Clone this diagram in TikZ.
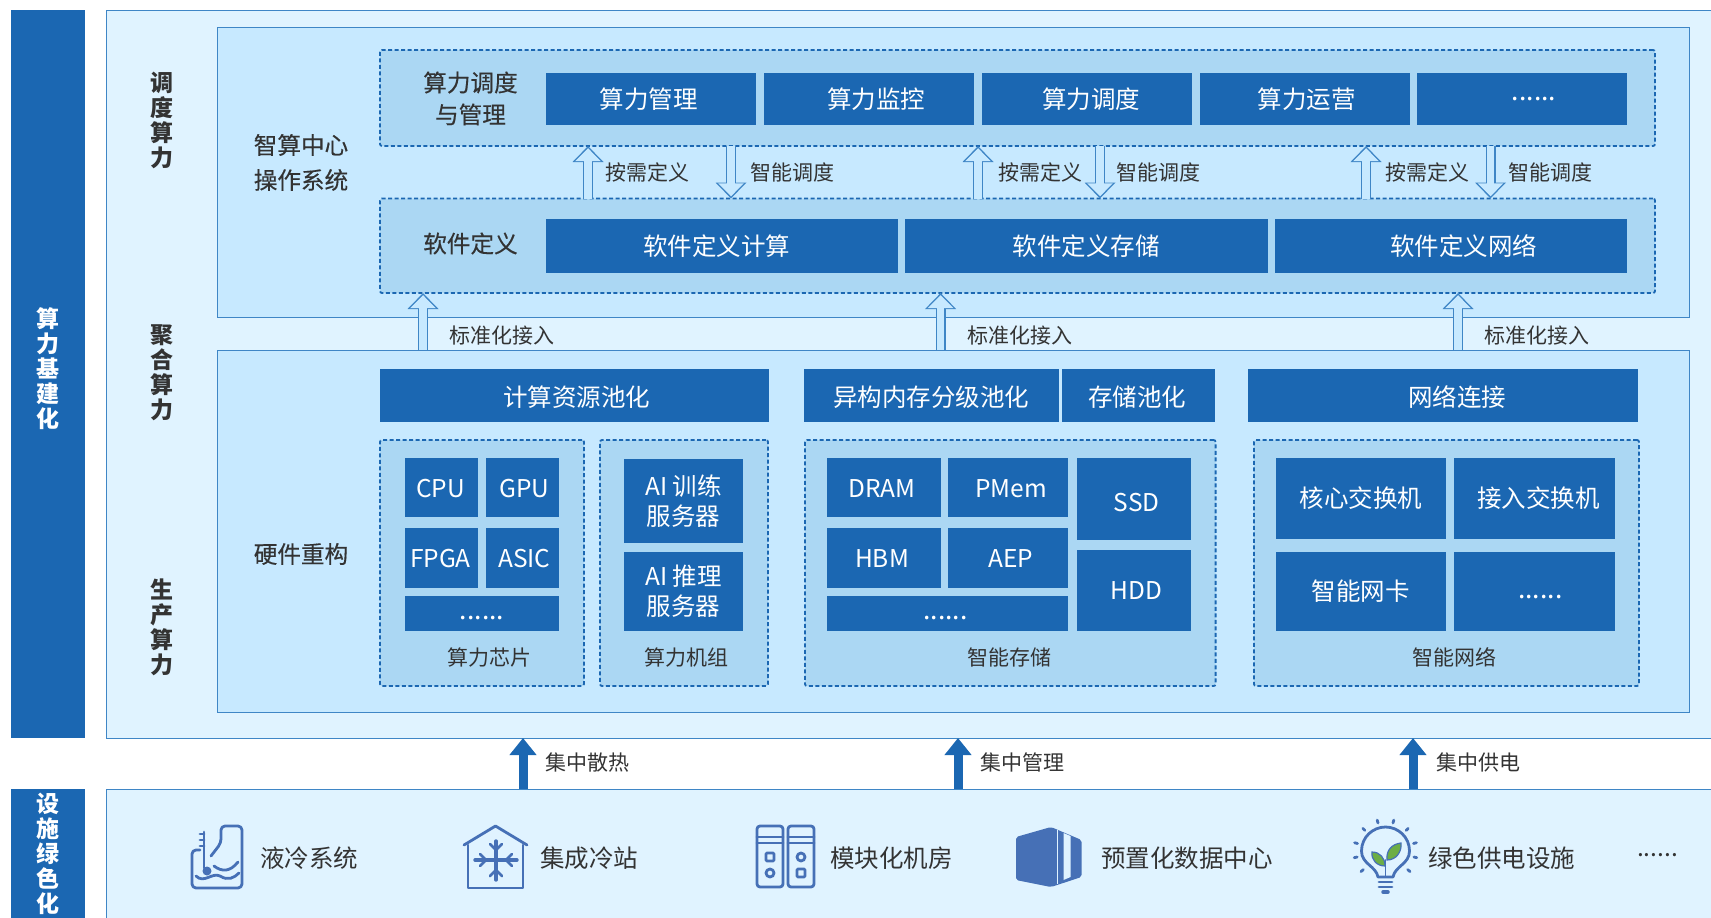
\documentclass[tikz,border=0pt]{standalone}
\usepackage{fontspec}
\setmainfont{Noto Sans CJK SC}
\newfontfamily\medfont[FakeBold=0.35]{Noto Sans CJK SC}
\usetikzlibrary{positioning,arrows.meta}
\newcommand{\nudged}[3]{\hspace*{#1}\raisebox{#2}[\height][\depth]{#3}}
\newcommand{\moredots}{\fontsize{26.5}{30}\selectfont......}
\definecolor{BarBlue}{HTML}{1B67B2}
\definecolor{PaleBlue}{HTML}{E0F3FF}
\definecolor{MidBlue}{HTML}{C7E9FF}
\definecolor{DeepBlue}{HTML}{ABD7F3}
\definecolor{EdgeBlue}{HTML}{3F86C6}
\definecolor{IconBlue}{HTML}{4670B6}
\definecolor{LeafGreen}{HTML}{6DAE45}
\definecolor{LabelGrey}{HTML}{333333}
\tikzset{
  every node/.style={
    inner sep=0pt,
    outer sep=0pt,
    text=LabelGrey
  },
  bluebox/.style={fill=BarBlue,text=white,align=center,font=\fontsize{24.5}{30}\selectfont},
  topcell/.style={bluebox,minimum width=210pt,minimum height=52pt},
  softcell/.style={bluebox,minimum height=54pt},
  headcell/.style={bluebox,minimum height=53pt},
  panel/.style={draw=EdgeBlue,line width=1pt},
  dashbox/.style={draw=BarBlue,fill=DeepBlue,dashed,dash pattern=on 4pt off 2.5pt,line width=1.8pt,rounded corners=2pt},
  sidelabel/.style={align=center,font=\fontsize{23}{25}\selectfont\bfseries},
  barlabel/.style={align=center,text=white,font=\fontsize{23}{25}\selectfont\bfseries},
  leadlabel/.style={align=center,font=\fontsize{23.6}{35}\selectfont\medfont},
  smalllabel/.style={anchor=west,font=\fontsize{21}{24}\selectfont},
  caption/.style={font=\fontsize{21}{24}\selectfont},
  itemlabel/.style={anchor=west,font=\fontsize{24.5}{28}\selectfont},
  hollowedge/.style={draw=EdgeBlue,line width=10pt,-{Triangle[length=16pt,width=30pt]}},
  hollowcore/.style={draw=MidBlue,line width=7.6pt,shorten >=2.2pt,-{Triangle[length=13pt,width=25pt]}},
  solidarrow/.style={draw=BarBlue,line width=9pt,-{Triangle[length=17pt,width=26pt]}},
  iconline/.style={draw=IconBlue,line width=2.8pt,line join=round,line cap=round}
}
\begin{document}
\begin{tikzpicture}[x=1pt,y=-1pt]
      \useasboundingbox (0,0) rectangle (1711,918);
      \node [fill=BarBlue,minimum width=74pt,minimum height=728pt] (BarTop) at (48,374) {};
      \node [fill=BarBlue,minimum width=74pt,minimum height=136pt] (BarBottom) at (48,857) {};
      \node [barlabel] (BarTopText) at (47.5,369) {算\\力\\基\\建\\化};
      \node [barlabel] (BarBottomText) at (47.5,854) {设\\施\\绿\\色\\化};

      \node [panel,fill=PaleBlue,minimum width=1608pt,minimum height=728pt] (Outer) at (910,374) {};
      \node [panel,fill=PaleBlue,minimum width=1608pt,minimum height=136pt] (Ground) at (910,857) {};
      \node [panel,fill=MidBlue,minimum width=1472pt,minimum height=290pt] (Upper) at (953,172) {};
      \node [panel,fill=MidBlue,minimum width=1472pt,minimum height=362pt] (Lower) at (953,531) {};
      \node [dashbox,minimum width=1275pt,minimum height=96pt] (SchedBox) at (1017.5,98) {};
      \node [dashbox,minimum width=1275pt,minimum height=94.5pt] (SoftBox) at (1017.5,245.75) {};

      \node [sidelabel] (SchedSide) at (161.5,120.5) {调\\度\\算\\力};
      \node [sidelabel] (PoolSide) at (161.5,372.5) {聚\\合\\算\\力};
      \node [sidelabel] (MakeSide) at (161.5,627.5) {生\\产\\算\\力};
      \node [leadlabel] (OsText) at (301,162.5) {智算中心\\操作系统};
      \node [leadlabel,font=\fontsize{23.6}{32}\selectfont\medfont] (SchedText) at (470.5,98.5) {算力调度\\与管理};
      \node [leadlabel] (SoftText) at (470.5,243.5) {软件定义};
      \node [leadlabel] (HardText) at (301,554) {硬件重构};

      \node [topcell] (Manage) at (650.5,99) {\nudged{-4pt}{0pt}{算力管理}};
      \node [topcell,on grid,right=218pt of Manage] (Monitor) {\nudged{15pt}{0pt}{算力监控}};
      \node [topcell,on grid,right=218pt of Monitor] (Dispatch) {\nudged{9pt}{0pt}{算力调度}};
      \node [topcell,on grid,right=218pt of Dispatch] (Operate) {\nudged{4pt}{0pt}{算力运营}};
      \node [topcell,on grid,right=217.5pt of Operate] (TopMore) {\nudged{24pt}{0pt}{\moredots}};

      \node [softcell,minimum width=352pt] (SoftCompute) at (722,246) {\nudged{-11pt}{0pt}{软件定义计算}};
      \node [softcell,minimum width=363pt,on grid,right=364pt of SoftCompute] (SoftStore) {软件定义存储};
      \node [softcell,minimum width=352.5pt,on grid,right=365pt of SoftStore] (SoftNet) {\nudged{25pt}{0pt}{软件定义网络}};

      \node [headcell,minimum width=389pt] (PoolHead) at (574.5,395.5) {\nudged{4pt}{-2pt}{计算资源池化}};
      \node [headcell,minimum width=254.5pt] (MemHead) at (931.25,395.5) {\nudged{0pt}{-2pt}{异构内存分级池化}};
      \node [headcell,minimum width=152.5pt] (StoreHead) at (1138.25,395.5) {\nudged{-2pt}{-2pt}{存储池化}};
      \node [headcell,minimum width=390pt] (NetHead) at (1443,395.5) {\nudged{28pt}{-2pt}{网络连接}};

      \node [dashbox,minimum width=204pt,minimum height=246pt] (ChipBox) at (482,563) {};
      \node [dashbox,minimum width=168pt,minimum height=246pt] (RackBox) at (684,563) {};
      \node [dashbox,minimum width=410.6pt,minimum height=246pt] (MemBox) at (1010.3,563) {};
      \node [dashbox,minimum width=385pt,minimum height=246pt] (NetBox) at (1446.5,563) {};

      \node [bluebox,minimum width=73pt,minimum height=59pt] (Cpu) at (441.5,487.5) {\nudged{-2pt}{-1pt}{CPU}};
      \node [bluebox,minimum width=73pt,minimum height=59pt] (Gpu) at (522.3,487.5) {\nudged{4pt}{-1pt}{GPU}};
      \node [bluebox,minimum width=73pt,minimum height=60pt] (Fpga) at (441.5,558) {\nudged{-2pt}{-1pt}{FPGA}};
      \node [bluebox,minimum width=73pt,minimum height=60pt] (Asic) at (522.3,558) {\nudged{4pt}{-1pt}{ASIC}};
      \node [bluebox,minimum width=154pt,minimum height=35pt] (ChipMore) at (482,613.5) {\nudged{0pt}{-4pt}{\moredots}};
      \node [caption] (ChipCap) at (489.5,657.5) {算力芯片};

      \node [bluebox,minimum width=119pt,minimum height=84pt] (Train) at (683.5,501) {AI 训练\\服务器};
      \node [bluebox,minimum width=119pt,minimum height=79pt] (Infer) at (683.5,591.5) {AI 推理\\服务器};
      \node [caption] (RackCap) at (686.5,657.5) {算力机组};

      \node [bluebox,minimum width=114pt,minimum height=59pt] (Dram) at (884,487.5) {\nudged{-4pt}{-1pt}{DRAM}};
      \node [bluebox,minimum width=120pt,minimum height=59pt] (Pmem) at (1008,487.5) {\nudged{6pt}{-1pt}{PMem}};
      \node [bluebox,minimum width=114pt,minimum height=60pt] (Hbm) at (884,558) {\nudged{-4pt}{-1pt}{HBM}};
      \node [bluebox,minimum width=120pt,minimum height=60pt] (Aep) at (1008,558) {\nudged{6pt}{-1pt}{AEP}};
      \node [bluebox,minimum width=241pt,minimum height=35pt] (MemMore) at (947.5,613.5) {\nudged{-4pt}{-4pt}{\moredots}};
      \node [bluebox,minimum width=113.5pt,minimum height=82pt] (Ssd) at (1133.75,499) {\nudged{6pt}{-4pt}{SSD}};
      \node [bluebox,minimum width=113.5pt,minimum height=81pt] (Hdd) at (1133.75,590.5) {\nudged{6pt}{0pt}{HDD}};
      \node [caption] (MemCap) at (1009.5,657.5) {智能存储};

      \node [bluebox,minimum width=170.4pt,minimum height=81pt] (Core) at (1360.8,498.5) {核心交换机};
      \node [bluebox,minimum width=161.5pt,minimum height=81pt] (Access) at (1534.25,498.5) {\nudged{8pt}{0pt}{接入交换机}};
      \node [bluebox,minimum width=170.4pt,minimum height=79pt] (Nic) at (1360.8,591.5) {智能网卡};
      \node [bluebox,minimum width=161.5pt,minimum height=79pt] (NetMore) at (1534.25,591.5) {\nudged{12pt}{-5pt}{\moredots}};
      \node [caption] (NetCap) at (1454,657.5) {智能网络};

      \foreach \x/\lx in {588/605.6,978/998.5,1366/1385}{
        \coordinate (Tick) at (\x,0);
        \draw [hollowedge] (SoftBox.north -| Tick) -- (SchedBox.south -| Tick);
        \draw [hollowcore] (SoftBox.north -| Tick) -- (SchedBox.south -| Tick);
        \node [smalllabel] (Need\x) at (\lx,172) {按需定义};
      }
      \foreach \x/\lx in {731/750,1100/1116,1490.5/1508}{
        \coordinate (Tick) at (\x,0);
        \draw [hollowedge] (SchedBox.south -| Tick) -- (SoftBox.north -| Tick);
        \draw [hollowcore] (SchedBox.south -| Tick) -- (SoftBox.north -| Tick);
        \node [smalllabel] (Smart\x) at (\lx,172) {智能调度};
      }
      \foreach \x/\lx in {423/449.6,940.6/967,1458/1484}{
        \coordinate (Tick) at (\x,0);
        \draw [hollowedge] (Lower.north -| Tick) -- (SoftBox.south -| Tick);
        \draw [hollowcore] (Lower.north -| Tick) -- (SoftBox.south -| Tick);
        \node [smalllabel] (Std\x) at (\lx,335.5) {标准化接入};
      }
      \foreach \x/\lx/\word in {523/545.6/集中散热,958/980/集中管理,1413/1436/集中供电}{
        \coordinate (Tick) at (\x,0);
        \draw [solidarrow] (Ground.north -| Tick) -- (Outer.south -| Tick);
        \node [smalllabel] (Feed\x) at (\lx,762.5) {\word};
      }

      \node [itemlabel] (ItemCool) at (260,858) {液冷系统};
      \node [itemlabel] (ItemStation) at (540,858) {集成冷站};
      \node [itemlabel] (ItemRoom) at (830,858) {模块化机房};
      \node [itemlabel] (ItemPrefab) at (1101,858) {预置化数据中心};
      \node [itemlabel] (ItemPower) at (1428,858) {绿色供电设施};
      \node [itemlabel] (ItemMore) at (1637,855) {......};

      % liquid cooling
      \draw [iconline,rounded corners=4pt] (200,850) -- (192,850) -- (192,888) -- (242,888) -- (242,826) -- (221,826) -- (221,843) -- (211,856);
      \draw [iconline] (204,832) -- (204,868) (200,834) -- (204,834) (200,840) -- (204,840) (200,846) -- (204,846);
      \fill [IconBlue] (207,871) circle [radius=4.5];
      \draw [iconline] (214,866) .. controls (222,872) and (230,872) .. (238,862);
      \draw [iconline] (196,876) .. controls (204,884) and (212,872) .. (220,876) .. controls (228,881) and (234,878) .. (239,873);

      % cold station
      \draw [iconline] (468,845) -- (468,888) -- (523,888) -- (523,845);
      \draw [iconline] (464,845) -- (495.5,826) -- (527,845);
      \draw [iconline,line width=3.4pt] (475,860) -- (517,860) (496,841) -- (496,880);
      \draw [iconline] (490,844) -- (496,850) -- (502,844) (490,876) -- (496,870) -- (502,876);
      \draw [iconline] (480,854) -- (486,860) -- (480,866) (512,854) -- (506,860) -- (512,866);

      % racks
      \foreach \rx in {757,788}{
        \draw [iconline,rounded corners=3pt] (\rx,826) rectangle ++(26,61);
        \draw [iconline] (\rx,837) -- ++(26,0) (\rx,843) -- ++(26,0);
      }
      \draw [iconline,rounded corners=1pt] (766,853) rectangle (774,861);
      \draw [iconline] (770,873) circle [radius=4];
      \draw [iconline] (801,857) circle [radius=4];
      \draw [iconline,rounded corners=1pt] (797,869) rectangle (805,877);

      % prefab block
      \fill [IconBlue,rounded corners=2pt] (1016,837) -- (1051,827) -- (1081.5,840) -- (1081.5,877) -- (1051,887) -- (1016,880) -- cycle;
      \fill [PaleBlue] (1063.5,833) -- (1070.5,836) -- (1070.5,877) -- (1063.5,880) -- cycle;
      \draw [PaleBlue,line width=1pt] (1057,830) -- (1057,884);

      % green bulb
      \draw [iconline] (1378,877) .. controls (1376,866) and (1361.5,864) .. (1361.5,851) .. controls (1361.5,837) and (1373,827) .. (1385.5,827) .. controls (1398,827) and (1409.5,837) .. (1409.5,851) .. controls (1409.5,864) and (1395,866) .. (1393,877) -- cycle;
      \draw [iconline] (1379,882) -- (1392,882) (1379,887) -- (1392,887);
      \draw [IconBlue,line width=3.5pt,line cap=round] (1383,892) -- (1388,892);
      \draw [iconline,line width=1.8pt] (1385.5,877) -- (1385.5,860);
      \fill [LeafGreen,draw=IconBlue,line width=1.2pt] (1385,866) .. controls (1377,866) and (1371,860) .. (1372,852) .. controls (1380,852) and (1385,858) .. (1385,866) -- cycle;
      \fill [LeafGreen,draw=IconBlue,line width=1.2pt] (1387,860) .. controls (1386,850) and (1392,844) .. (1401,843) .. controls (1402,852) and (1396,860) .. (1387,860) -- cycle;
      \foreach \a in {40,12,-15,-45,-75,-105,-135,-165,168,140}{
        \draw [iconline] ([shift={(1385.5,851)}]\a:29) -- ([shift={(1385.5,851)}]\a:32);
      }
    \end{tikzpicture}
\end{document}
